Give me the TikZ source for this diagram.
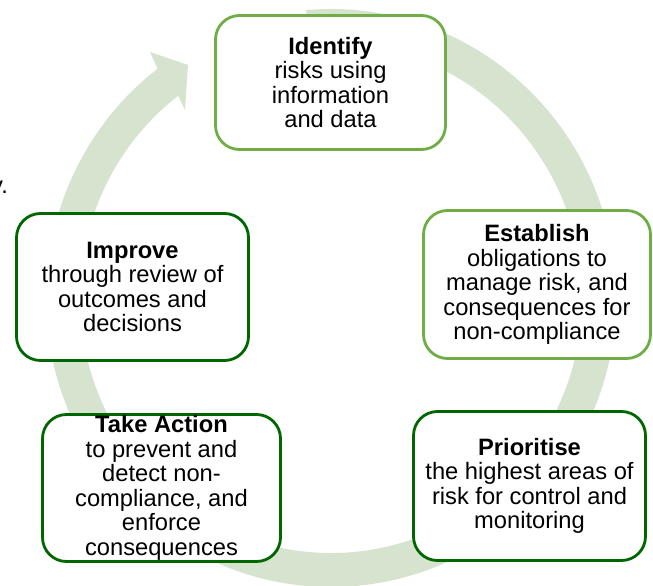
\documentclass[tikz,border=0pt]{standalone}
\usepackage{fontspec}
\setmainfont{Liberation Sans}
\definecolor{ringgreen}{RGB}{214,227,206}
\definecolor{lightgreen}{RGB}{112,173,71}
\definecolor{darkgreen}{RGB}{0,102,0}
\begin{document}
\begin{tikzpicture}[x=1pt,y=-1pt,
  stage/.style={draw, line width=2.8pt, rounded corners=24pt, fill=white,
    align=center, inner sep=0pt, text=black,
    font=\fontsize{23.7}{24.5}\selectfont},
  lightstage/.style={stage, draw=lightgreen},
  darkstage/.style={stage, draw=darkgreen}]
\useasboundingbox (0,0) rectangle (653,586);
% background cycle arrow
\begin{scope}[shift={(331,298)}]
\fill[ringgreen] (-95:285 and 289)
  arc[start angle=-95, end angle=232.5, x radius=285, y radius=289]
  -- (-181,-246) -- (-143,-233) -- (-146,-188)
  -- (232.5:251 and 255)
  arc[start angle=232.5, end angle=-95, x radius=251, y radius=255]
  -- cycle;
\end{scope}
% fragment of text at the left edge
\node[anchor=base east, inner sep=0pt, font=\fontsize{23.7}{24.5}\selectfont] (frag) at (8.1,193) {y.};
% stages
\node[lightstage, minimum width=230pt, minimum height=134pt] (identify) at (330.5,82.5)
  {\textbf{Identify}\\risks using\\information\\and data};
\node[lightstage, minimum width=227pt, minimum height=148pt] (establish) at (537,284.5)
  {\textbf{Establish}\\obligations to\\manage risk, and\\consequences for\\non-compliance};
\node[darkstage, minimum width=232pt, minimum height=149pt] (prioritise) at (529.5,486)
  {\textbf{Prioritise}\\the highest areas of\\risk for control and\\monitoring};
\node[darkstage, minimum width=238pt, minimum height=147pt] (takeaction) at (161.5,488)
  {\textbf{Take Action}\\to prevent and\\detect non-\\compliance, and\\enforce\\consequences};
\node[darkstage, minimum width=232pt, minimum height=147pt] (improve) at (132.5,287)
  {\textbf{Improve}\\through review of\\outcomes and\\decisions};
\end{tikzpicture}
\end{document}
